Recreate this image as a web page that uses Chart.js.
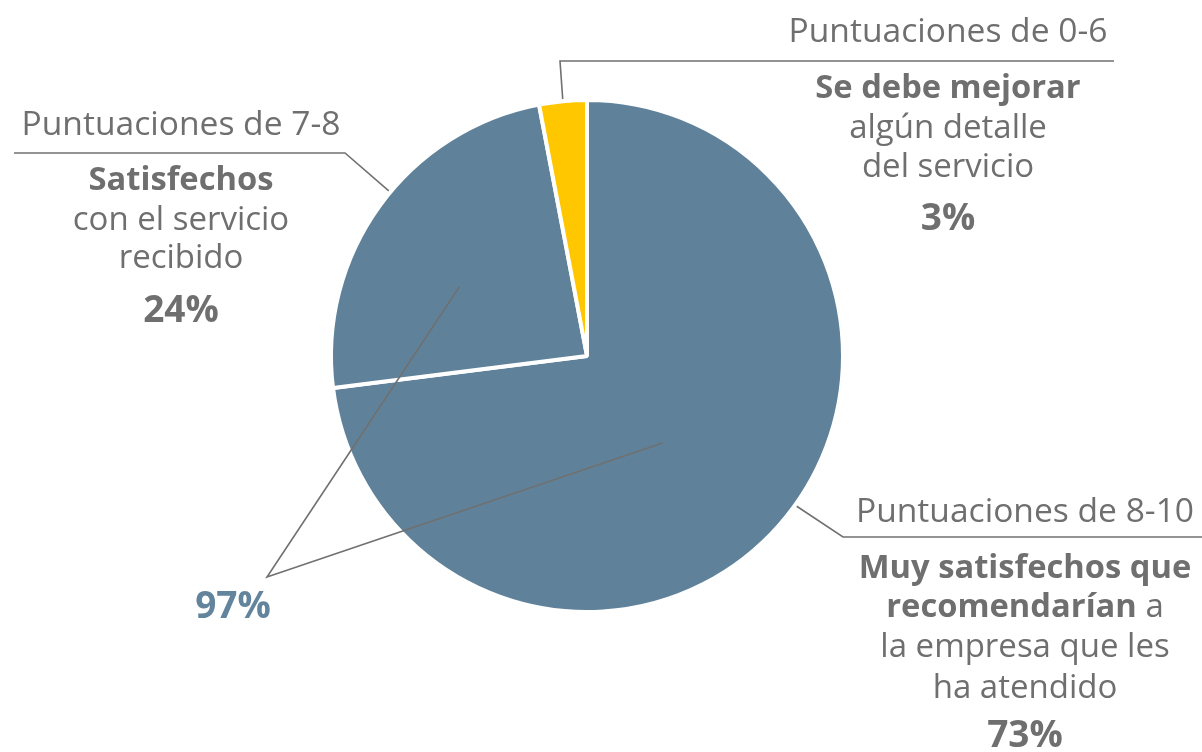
<!DOCTYPE html>
<html lang="es">
<head>
  <meta charset="UTF-8">
  <title>Satisfacción con el servicio</title>
  <script src="https://cdn.jsdelivr.net/npm/chart.js"></script>
  <style>
    html, body { margin: 0; padding: 0; background: #fff; }
    canvas { display: block; }
  </style>
</head>
<body>
  <canvas id="satisfaccionChart" width="1202" height="752"></canvas>
  <script>
    // Datos del gráfico
    const categorias = ['Puntuaciones de 8-10', 'Puntuaciones de 7-8', 'Puntuaciones de 0-6'];
    const porcentajes = [73, 24, 3];
    const colores = ['#5f829a', '#5f829a', '#ffc700'];
    // cada línea es una lista de tramos [texto, negrita]
    const descripciones = [
      [[['Muy satisfechos que', true]], [['recomendarían', true], [' a', false]], [['la empresa que les', false]], [['ha atendido', false]]],
      [[['Satisfechos', true]], [['con el servicio', false]], [['recibido', false]]],
      [[['Se debe mejorar', true]], [['algún detalle', false]], [['del servicio', false]]]
    ];
    const totalSatisfechos = '97%';

    const GRIS = '#6f6f6f';
    const FUENTE = '"Open Sans", sans-serif';

    // posición de cada bloque de texto y su línea guía
    const bloques = [
      { cx: 1025, titulo: 522, lineas: [578, 617, 657, 698], pct: 747, guia: { frac: 0.478, codo: [843, 537], fin: [1202, 537] } },
      { cx: 181, titulo: 135, lineas: [190, 230, 268], pct: 322, guia: { frac: 0.544, codo: [345, 153], fin: [14, 153] } },
      { cx: 948, titulo: 42, lineas: [98, 138, 177], pct: 230, guia: { frac: 0.5, codo: [560, 61], fin: [1114, 61] } }
    ];

    function punto(arc, frac, r) {
      const a = arc.startAngle + (arc.endAngle - arc.startAngle) * frac;
      return [arc.x + r * Math.cos(a), arc.y + r * Math.sin(a)];
    }

    function lineaMixta(ctx, tramos, cx, y) {
      const fuente = b => (b ? '700 32.7px ' : '400 33px ') + FUENTE;
      let total = 0;
      tramos.forEach(([t, b]) => {
        ctx.font = fuente(b);
        total += ctx.measureText(t).width;
      });
      let x = cx - total / 2;
      ctx.textAlign = 'left';
      tramos.forEach(([t, b]) => {
        ctx.font = fuente(b);
        ctx.fillText(t, x, y);
        x += ctx.measureText(t).width;
      });
    }

    const etiquetas = {
      id: 'etiquetas',
      afterDraw(chart) {
        const ctx = chart.ctx;
        const arcs = chart.getDatasetMeta(0).data;
        ctx.save();
        ctx.strokeStyle = '#707070';
        ctx.lineWidth = 1.6;
        ctx.textBaseline = 'alphabetic';

        bloques.forEach((b, i) => {
          const arc = arcs[i];
          const p = punto(arc, b.guia.frac, arc.outerRadius + 2);
          ctx.beginPath();
          ctx.moveTo(p[0], p[1]);
          ctx.lineTo(b.guia.codo[0], b.guia.codo[1]);
          ctx.lineTo(b.guia.fin[0], b.guia.fin[1]);
          ctx.stroke();

          ctx.fillStyle = GRIS;
          ctx.textAlign = 'center';
          ctx.font = '400 33.6px ' + FUENTE;
          ctx.fillText(categorias[i], b.cx, b.titulo);
          descripciones[i].forEach((tramos, j) => lineaMixta(ctx, tramos, b.cx, b.lineas[j]));
          ctx.textAlign = 'center';
          ctx.font = '700 37px ' + FUENTE;
          ctx.fillText(porcentajes[i] + '%', b.cx, b.pct);
        });

        // 97% = satisfechos + muy satisfechos
        const vertice = [267, 577];
        const pA = punto(arcs[1], 0.413, arcs[1].outerRadius * 0.567);
        const pB = punto(arcs[0], 0.529, arcs[0].outerRadius * 0.45);
        ctx.beginPath();
        ctx.moveTo(pA[0], pA[1]);
        ctx.lineTo(vertice[0], vertice[1]);
        ctx.lineTo(pB[0], pB[1]);
        ctx.stroke();
        ctx.fillStyle = '#62849c';
        ctx.textAlign = 'center';
        ctx.font = '700 37px ' + FUENTE;
        ctx.fillText(totalSatisfechos, 233, 618);
        ctx.restore();
      }
    };

    const ctx = document.getElementById('satisfaccionChart').getContext('2d');
    new Chart(ctx, {
      type: 'pie',
      data: {
        labels: categorias,
        datasets: [{
          data: porcentajes,
          backgroundColor: colores,
          borderColor: '#ffffff',
          borderWidth: 4,
          hoverOffset: 0
        }]
      },
      options: {
        responsive: false,
        animation: false,
        radius: 256,
        layout: { padding: { left: 333, right: 361, top: 102, bottom: 142 } },
        plugins: {
          legend: { display: false },
          tooltip: { enabled: false }
        }
      },
      plugins: [etiquetas]
    });
  </script>
</body>
</html>
